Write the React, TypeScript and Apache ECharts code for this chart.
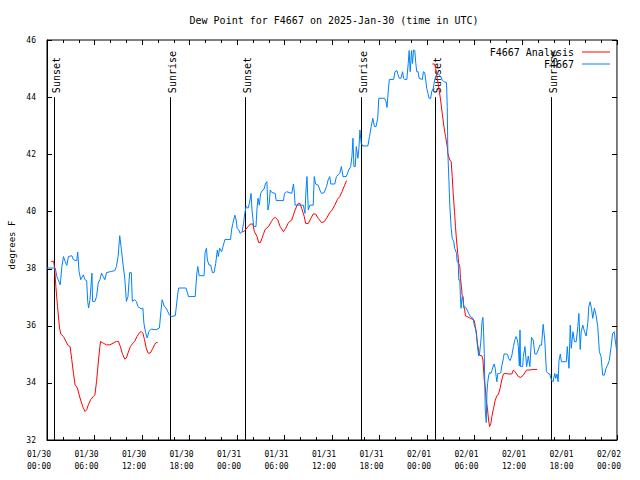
import React, { useEffect, useRef } from "react";
import * as echarts from "echarts";

// hours since 2025-01-30 00:00 UTC
const titleText = "Dew Point for F4667 on 2025-Jan-30 (time in UTC)";
const yAxisTitle = "degrees F";
const dayLabels = ["01/30", "01/31", "02/01", "02/02"];
const yTicks = [32, 34, 36, 38, 40, 42, 44, 46];
const xMajorTicks = [0, 6, 12, 18, 24, 30, 36, 42, 48, 54, 60, 66, 72];
const xMinorTicks = [2, 4, 8, 10, 14, 16, 20, 22, 26, 28, 32, 34, 38, 40, 44, 46, 50, 52, 56, 58, 62, 64, 68, 70];

const sunHours = [0.85, 15.6, 25.02, 39.7, 49.05, 63.72];
const sunLabels = ["Sunset", "Sunrise", "Sunset", "Sunrise", "Sunset", "Sunrise"];

const analysisSeg1: [number, number][] = [
  [0.54, 38.25], [0.83, 38.25], [0.96, 38.02], [1.12, 37.37], [1.33, 36.67], [1.58, 35.92], [1.75, 35.71],
  [2.08, 35.62], [2.5, 35.39], [2.71, 35.3], [2.92, 35.27], [3.13, 34.81], [3.34, 34.34], [3.55, 33.93],
  [3.84, 33.82], [4.17, 33.47], [4.51, 33.17], [4.8, 33.0], [5.01, 33.06], [5.22, 33.23], [5.51, 33.41],
  [5.85, 33.52], [6.05, 33.58], [6.26, 34.05], [6.47, 34.69], [6.68, 35.27], [6.77, 35.45], [7.1, 35.39],
  [7.52, 35.33], [7.94, 35.33], [8.35, 35.39], [8.77, 35.45], [9.02, 35.45], [9.27, 35.27], [9.52, 35.02],
  [9.82, 34.83], [10.03, 34.87], [10.23, 35.04], [10.53, 35.27], [10.86, 35.39], [11.07, 35.45], [11.36, 35.62],
  [11.7, 35.76], [11.9, 35.8], [12.11, 35.74], [12.32, 35.51], [12.53, 35.22], [12.78, 35.04], [13.03, 35.04],
  [13.28, 35.16], [13.58, 35.33], [13.79, 35.41], [13.99, 35.41],
];
const analysisSeg2: [number, number][] = [
  [24.65, 39.29], [24.86, 39.29], [25.4, 39.47], [25.69, 39.56], [26.0, 39.56], [26.2, 39.29], [26.53, 39.12],
  [26.74, 38.91], [26.95, 38.91], [27.16, 39.06], [27.37, 39.23], [27.58, 39.38], [27.99, 39.47], [28.33, 39.64],
  [28.62, 39.76], [28.83, 39.79], [29.16, 39.7], [29.45, 39.47], [29.87, 39.29], [30.16, 39.41], [30.5, 39.61],
  [30.92, 39.7], [31.34, 40.05], [31.67, 40.26], [31.96, 40.28], [32.17, 40.11], [32.5, 39.82], [32.67, 39.58],
  [33.01, 39.58], [33.34, 39.76], [33.63, 39.91], [33.93, 39.91], [34.26, 39.76], [34.68, 39.61], [35.01, 39.64],
  [35.31, 39.76], [35.72, 39.96], [36.02, 40.05], [36.35, 40.22], [36.69, 40.42], [36.98, 40.52], [37.27, 40.69],
  [37.6, 40.92], [37.85, 41.08],
];
const analysisSeg3: [number, number][] = [
  [48.68, 45.16], [48.97, 45.16], [49.1, 45.01], [49.3, 44.66], [49.51, 44.31], [49.72, 43.9], [49.93, 43.43],
  [50.14, 42.97], [50.35, 42.62], [50.56, 42.27], [50.64, 42.03], [50.89, 41.8], [51.06, 41.74], [51.19, 41.22],
  [51.31, 40.63], [51.48, 39.99], [51.6, 39.47], [51.73, 39.0], [51.89, 38.53], [52.02, 38.18], [52.15, 38.07],
  [52.23, 37.66], [52.35, 37.37], [52.44, 37.07], [52.56, 37.02], [52.65, 36.67], [52.77, 36.55], [52.86, 36.34],
  [53.07, 36.32], [53.48, 36.26], [53.82, 36.22], [53.98, 36.18], [54.11, 35.97], [54.23, 35.79], [54.32, 35.52],
  [54.44, 35.27], [54.65, 34.97], [54.95, 34.94], [55.07, 34.8], [55.24, 34.1], [55.36, 33.87], [55.49, 33.4],
  [55.66, 33.05], [55.78, 32.7], [55.91, 32.47], [56.07, 32.58], [56.2, 32.82], [56.41, 33.11], [56.62, 33.4],
  [56.83, 33.54], [57.04, 33.61], [57.24, 33.81], [57.45, 34.1], [57.66, 34.31], [57.87, 34.33], [58.29, 34.31],
  [58.71, 34.31], [58.92, 34.45], [59.12, 34.39], [59.33, 34.31], [59.54, 34.22], [59.83, 34.19], [60.17, 34.27],
  [60.59, 34.45], [61.0, 34.45], [61.42, 34.47], [61.92, 34.47],
];

const stationObs: [number, number][] = [
  [0, 38.02], [1.04, 38.02], [1.25, 37.72], [1.67, 37.43], [1.88, 38.07], [2.08, 38.42], [2.29, 38.25], [2.5, 38.11],
  [2.71, 38.42], [3.13, 38.45], [3.34, 38.31], [3.76, 38.27], [3.88, 38.58], [4.05, 37.9], [4.26, 37.61], [4.59, 37.78],
  [4.8, 37.61], [5.01, 37.58], [5.14, 36.85], [5.26, 36.62], [5.43, 36.91], [5.55, 37.37], [5.68, 37.84], [5.76, 36.85],
  [6.05, 36.85], [6.26, 37.02], [6.47, 37.49], [6.68, 37.61], [6.89, 37.84], [7.1, 37.72], [7.31, 37.61], [7.52, 37.86],
  [8.14, 37.9], [8.56, 37.93], [8.77, 38.07], [8.98, 38.42], [9.19, 39.15], [9.4, 38.66], [9.61, 38.13], [9.82, 37.67],
  [10.03, 36.85], [10.23, 37.02], [10.44, 37.86], [10.65, 37.86], [10.78, 36.85], [11.07, 36.91], [11.28, 36.85],
  [11.49, 36.67], [11.9, 36.59], [12.11, 36.62], [12.24, 36.09], [12.45, 35.76], [12.66, 35.57], [12.87, 35.8],
  [13.16, 35.88], [13.79, 35.86], [14.2, 35.92], [14.41, 36.56], [14.54, 36.91], [14.83, 36.67], [15.04, 36.62],
  [15.46, 36.38], [15.67, 36.32], [16.21, 36.35], [16.5, 37.08], [16.63, 37.32], [17.55, 37.32], [17.88, 37.02],
  [18.72, 37.02], [18.93, 37.84], [19.05, 38.07], [19.22, 37.75],
  [19.84, 37.75], [19.97, 38.56], [20.14, 38.71], [20.26, 38.3], [20.47, 38.12], [20.68, 38.12], [20.89, 37.86],
  [21.1, 37.86], [21.31, 38.18], [21.52, 38.65], [21.64, 38.42], [21.81, 38.71], [22.06, 38.59], [22.23, 38.77],
  [22.48, 39.02], [23.19, 39.02], [23.31, 39.35], [23.48, 39.58], [23.73, 39.87], [23.9, 39.7], [24.02, 39.41],
  [24.23, 39.35], [24.4, 39.23], [24.65, 39.29], [24.86, 39.64], [24.98, 39.93], [25.15, 40.17], [25.4, 40.11],
  [25.57, 40.28], [25.78, 40.63], [25.9, 40.05], [26.11, 39.47], [26.4, 39.47], [26.53, 40.11], [26.66, 40.46],
  [26.82, 40.22], [26.99, 40.63], [27.24, 40.75], [27.41, 40.77], [27.58, 40.96], [27.78, 41.04], [27.91, 40.05],
  [28.08, 40.28], [28.2, 40.75], [28.41, 40.66], [28.83, 40.63], [28.95, 40.38], [29.87, 40.38], [30.0, 40.63],
  [30.29, 40.69], [30.92, 40.63], [31.13, 40.96], [31.25, 40.66], [31.34, 40.22], [32.38, 40.22], [32.59, 39.93],
  [32.72, 40.75], [32.84, 41.22], [33.01, 40.05], [33.22, 40.22], [33.63, 40.22], [33.76, 41.22], [33.93, 40.96],
  [34.26, 40.92], [34.47, 40.75], [34.68, 40.63], [35.01, 40.66], [35.31, 40.87], [35.51, 41.1], [35.72, 41.22],
  [35.85, 40.96], [36.35, 40.96], [36.56, 41.22], [36.98, 41.33], [37.19, 41.57], [37.39, 41.22], [37.81, 41.22],
  [38.11, 41.45], [38.36, 41.57], [38.52, 41.92], [38.65, 42.56], [38.77, 41.57], [38.94, 41.57], [39.07, 42.27],
  [39.28, 41.86], [39.4, 42.21], [39.53, 42.85], [39.69, 42.38], [39.9, 42.29], [40.53, 42.29], [40.74, 42.62],
  [40.95, 42.97], [41.16, 43.26], [41.37, 42.97], [41.57, 42.97], [41.78, 43.26], [41.91, 43.96], [42.62, 43.96],
  [42.83, 43.84], [42.95, 43.64], [43.12, 44.25], [43.25, 44.62], [43.79, 44.62], [43.96, 44.89], [44.21, 44.93],
  [44.29, 44.83], [44.5, 44.66], [44.71, 44.66], [44.92, 44.89], [45.04, 44.66], [45.21, 44.62], [45.46, 44.62],
  [45.63, 45.18], [45.75, 45.63], [45.88, 44.89], [46.05, 45.63], [46.17, 45.18], [46.3, 45.65], [46.46, 45.63],
  [46.59, 45.18], [46.71, 44.89], [46.88, 44.89], [47.01, 44.66], [47.42, 44.62], [47.55, 44.89], [47.72, 44.86],
  [47.97, 44.31], [48.13, 44.13], [48.26, 43.96], [48.47, 43.96], [48.59, 44.19], [48.8, 44.31], [48.97, 44.6],
  [49.22, 44.8], [49.51, 44.8], [49.72, 44.72], [49.93, 44.6], [50.14, 44.54], [50.47, 44.51], [50.56, 43.67],
  [50.64, 42.03], [50.77, 41.1], [50.89, 40.17], [51.06, 39.41], [51.19, 39.06], [51.4, 38.94], [51.48, 38.71],
  [51.6, 38.65], [51.73, 38.53], [51.81, 38.24], [51.94, 38.24], [52.02, 37.6], [52.15, 37.6], [52.23, 36.96],
  [52.31, 36.61], [52.44, 37.02], [52.56, 36.9], [52.65, 36.64], [52.77, 36.67], [52.9, 36.64], [53.07, 36.55],
  [53.27, 36.43], [53.48, 36.32], [53.82, 36.26], [53.98, 36.02], [54.11, 35.91], [54.23, 35.73], [54.32, 35.44],
  [54.44, 35.15], [54.53, 34.94], [54.65, 35.03], [54.82, 35.5], [54.95, 36.14], [55.07, 36.29], [55.15, 35.79],
  [55.24, 35.03], [55.36, 33.05], [55.49, 32.61], [55.57, 33.63], [55.66, 33.98], [55.78, 34.24], [55.91, 34.36],
  [56.07, 34.33], [56.2, 34.43], [56.41, 34.62], [56.49, 34.66], [56.62, 34.51], [56.74, 34.22], [56.83, 34.04],
  [56.95, 34.33], [57.16, 34.33], [57.33, 34.36], [57.45, 34.59], [57.66, 34.86], [57.74, 35.01], [57.99, 35.01],
  [58.2, 34.99], [58.29, 34.86], [58.5, 34.78], [58.71, 34.94], [58.92, 35.27], [59.12, 35.52], [59.25, 35.62],
  [59.42, 35.5], [59.54, 35.27], [59.67, 34.59], [59.75, 35.85], [59.83, 34.57], [60.09, 34.57], [60.17, 34.92],
  [60.38, 35.27], [60.59, 34.57], [60.8, 34.94], [61.0, 34.57], [61.21, 35.59], [61.42, 35.5], [61.63, 35.01],
  [61.84, 35.01], [62.05, 35.15], [62.26, 35.32], [62.47, 35.32], [62.68, 36.05], [62.88, 35.5], [63.09, 34.39],
  [63.3, 34.33], [63.51, 34.31], [63.72, 34.1], [63.93, 34.04], [64.14, 34.33], [64.26, 34.16], [64.43, 34.31],
  [64.56, 34.04], [64.68, 34.78], [64.85, 35.01], [64.98, 34.74], [65.6, 34.74], [65.73, 35.27], [65.94, 34.51],
  [66.1, 36.02], [66.23, 35.21], [66.44, 35.79], [66.64, 35.44], [66.85, 35.44], [67.06, 35.97], [67.19, 36.43],
  [67.36, 35.17], [67.48, 35.79], [67.69, 36.02], [67.9, 35.79], [68.11, 35.64], [68.32, 36.11], [68.44, 36.67],
  [68.61, 36.84], [68.78, 36.61], [68.94, 36.26], [69.15, 36.61], [69.36, 36.37], [69.57, 35.97], [69.78, 35.09],
  [69.99, 34.92], [70.2, 34.27], [70.41, 34.27], [70.62, 34.51], [70.82, 34.62], [71.03, 34.78], [71.24, 35.21],
  [71.45, 35.73], [71.66, 35.79], [71.78, 35.5], [71.95, 35.15],
];

const MONO = '"DejaVu Sans Mono", "Liberation Mono", monospace';

export default function App() {
  const ref = useRef<HTMLDivElement>(null);
  useEffect(() => {
    if (!ref.current) return;
    const chart = echarts.init(ref.current, null, { renderer: "svg" });
    const analysisData: any[] = [
      ...analysisSeg1,
      [18, "-"],
      ...analysisSeg2,
      [43, "-"],
      ...analysisSeg3,
    ];
    const xLabelFmt = (v: number) => {
      const d = Math.floor(v / 24 + 1e-9);
      const hh = Math.round(v - d * 24);
      return dayLabels[d] + "\n" + (hh < 10 ? "0" + hh : "" + hh) + ":00";
    };
    const yMin = yTicks[0];
    const yMax = yTicks[yTicks.length - 1];
    const px = (v: number) => Math.round(v) + 0.5;
    chart.setOption({
      animation: false,
      grid: { left: 47, right: 19, top: 40, bottom: 40, show: true, borderColor: "#000", borderWidth: 1 },
      graphic: [
        {
          type: "text",
          x: 334,
          y: 20.5,
          style: { text: titleText, font: "10px " + MONO, fill: "#000", align: "center", verticalAlign: "middle" },
        },
        {
          type: "text",
          x: 11.5,
          y: 245,
          rotation: Math.PI / 2,
          style: { text: yAxisTitle, font: "9px " + MONO, fill: "#000", align: "center", verticalAlign: "middle" },
        },
      ],
      legend: [
        {
          data: ["F4667 Analysis"],
          right: 30,
          top: 45,
          align: "right",
          icon: "rect",
          itemWidth: 28,
          itemHeight: 1,
          textStyle: { fontFamily: MONO, fontSize: 10, color: "#000", padding: [0, 3, 0, 0], lineHeight: 14 },
          padding: 0,
        },
        {
          data: ["F4667"],
          right: 30,
          top: 57,
          align: "right",
          icon: "rect",
          itemWidth: 28,
          itemHeight: 1,
          textStyle: { fontFamily: MONO, fontSize: 10, color: "#000", padding: [0, 3, 0, 0], lineHeight: 14 },
          padding: 0,
        },
      ],
      xAxis: {
        type: "value",
        min: 0,
        max: 72,
        interval: 6,
        axisLine: { show: true, onZero: false, lineStyle: { color: "#000", width: 1 } },
        axisTick: { show: false },
        splitLine: { show: false },
        axisLabel: {
          show: true,
          formatter: xLabelFmt,
          fontFamily: MONO,
          fontSize: 8,
          color: "#000",
          lineHeight: 11.7,
          margin: 9,
          padding: [0, 16, 0, 0],
          showMinLabel: true,
          showMaxLabel: true,
        },
      },
      yAxis: {
        type: "value",
        min: yMin,
        max: yMax,
        interval: 2,
        axisLine: { show: true, onZero: false, lineStyle: { color: "#000", width: 1 } },
        axisTick: { show: false },
        splitLine: { show: false },
        axisLabel: { show: true, fontFamily: MONO, fontSize: 8, color: "#000", margin: 11 },
      },
      series: [
        {
          type: "custom",
          encode: { x: 0, y: 1 },
          data: [[36, 39]],
          renderItem: (_p: any, api: any) => {
            const children: any[] = [];
            const bl = api.coord([0, yMin]);
            const tr = api.coord([72, yMax]);
            const L = Math.round(bl[0]);
            const R = Math.round(tr[0]);
            const T = Math.round(tr[1]);
            const B = Math.round(bl[1]);
            const rect = (x: number, y: number, w: number, h: number) =>
              children.push({ type: "rect", shape: { x, y, width: w, height: h }, style: { fill: "#000" } });
            xMajorTicks.forEach((hr) => {
              const x = Math.round(api.coord([hr, yMin])[0]);
              rect(x, B - 5, 1, 5);
              rect(x, T, 1, 5);
            });
            xMinorTicks.forEach((hr) => {
              const x = Math.round(api.coord([hr, yMin])[0]);
              rect(x, B - 3, 1, 3);
              rect(x, T, 1, 3);
            });
            yTicks.forEach((v) => {
              const y = Math.round(api.coord([0, v])[1]);
              rect(L, y, 5, 1);
              rect(R - 5, y, 5, 1);
            });
            return { type: "group", children };
          },
        },
        {
          type: "custom",
          name: "sun",
          silent: true,
          encode: { x: 0, y: 1 },
          data: sunHours.map((h) => [h, 44]),
          renderItem: (params: any, api: any) => {
            const h = api.value(0);
            const top = api.coord([h, 44]);
            const bot = api.coord([h, yMin]);
            const x = px(top[0]);
            return {
              type: "group",
              children: [
                { type: "line", shape: { x1: x, y1: top[1], x2: x, y2: bot[1] }, style: { stroke: "#000", lineWidth: 1 } },
                {
                  type: "text",
                  x: x + 1.5,
                  y: top[1] - 4,
                  rotation: Math.PI / 2,
                  style: {
                    text: sunLabels[params.dataIndex],
                    font: "10px " + MONO,
                    fill: "#000",
                    align: "left",
                    verticalAlign: "middle",
                  },
                },
              ],
            };
          },
        },
        {
          type: "line",
          name: "F4667 Analysis",
          data: analysisData,
          showSymbol: false,
          symbol: "none",
          connectNulls: false,
          lineStyle: { color: "#ff0000", width: 1 },
          itemStyle: { color: "#ff0000" },
          z: 3,
        },
        {
          type: "line",
          name: "F4667",
          data: stationObs,
          showSymbol: false,
          symbol: "none",
          lineStyle: { color: "#0080ff", width: 1 },
          itemStyle: { color: "#0080ff" },
          z: 4,
        },
      ],
    });
    return () => chart.dispose();
  }, []);
  return <div ref={ref} style={{ position: "fixed", left: 0, top: 0, width: 640, height: 480, background: "#fff" }} />;
}
